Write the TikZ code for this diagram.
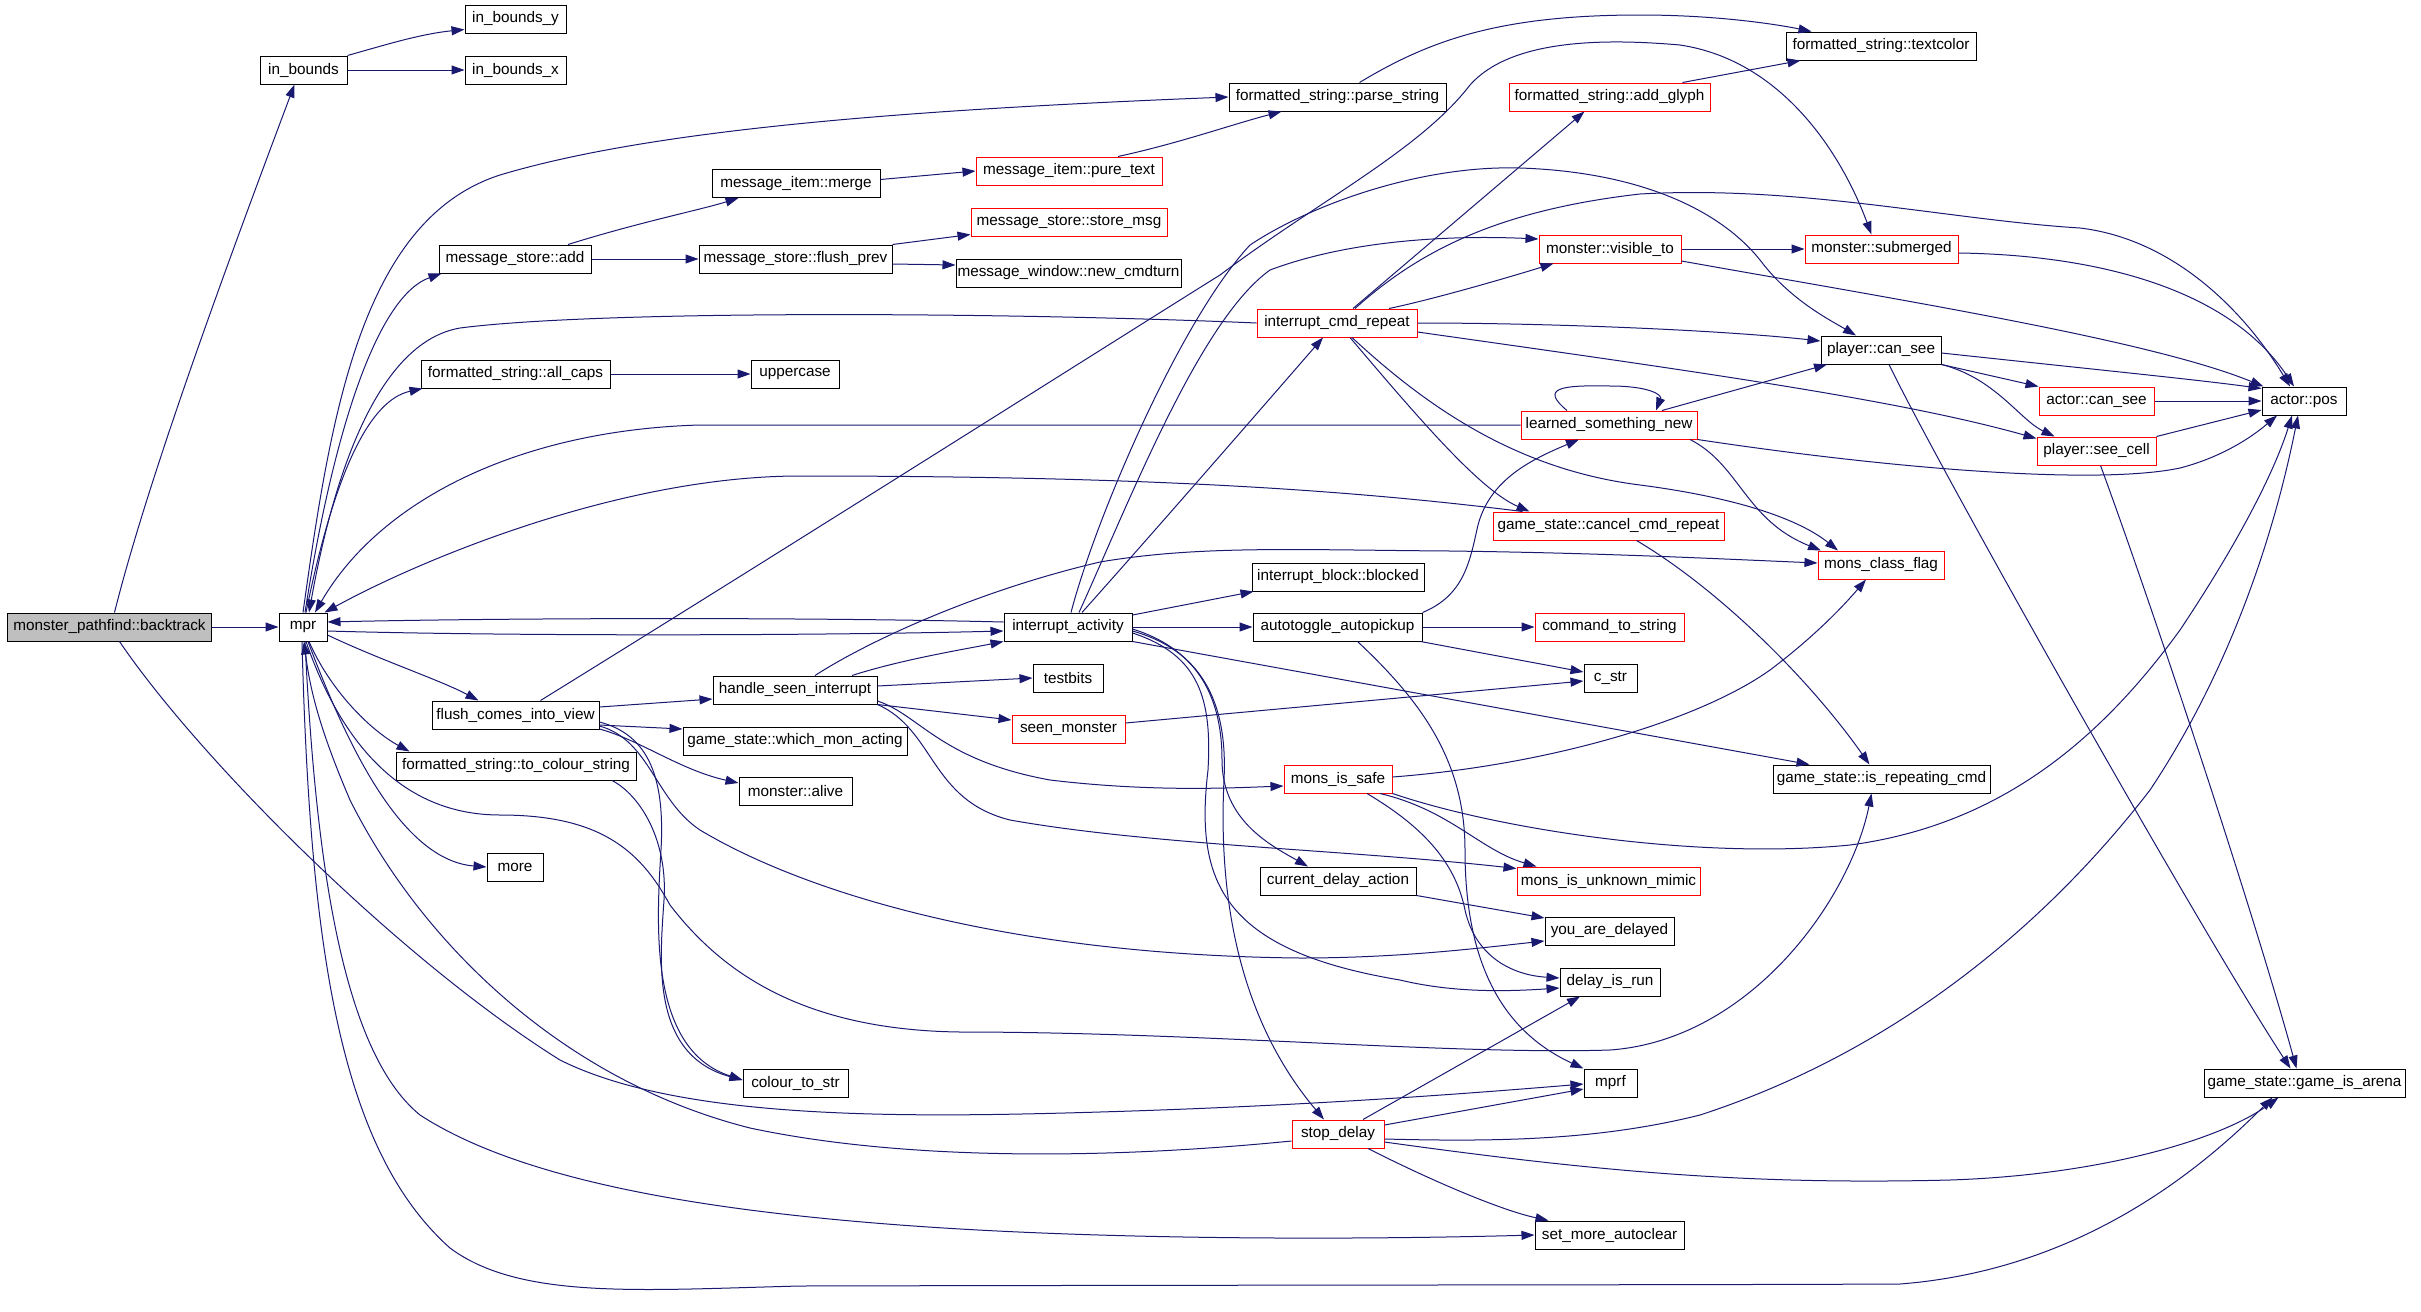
\documentclass[tikz,border=0pt]{standalone}
\usepackage{fontspec}
\setmainfont{Liberation Sans}
\usetikzlibrary{arrows.meta}
\definecolor{edgeblue}{RGB}{25,25,112}
\definecolor{rootgray}{RGB}{191,191,191}

\begin{document}
\begin{tikzpicture}[x=1pt,y=-1pt,
  fn/.style={draw=black,line width=1pt,fill=white,minimum height=28pt,inner sep=0pt,font=\fontsize{15.3}{18}\selectfont},
  fnred/.style={fn,draw=red},
  call/.style={draw=edgeblue,line width=1pt,-{Triangle[length=13pt,width=9pt]}}]

\useasboundingbox (0,0) rectangle (2421,1312);

%% functions
\node[fn,fill=rootgray,minimum width=204pt] (backtrack) at (109.5,627) {monster\_pathfind::backtrack};
\node[fn,minimum width=48pt] (mpr) at (303,627) {mpr};
\node[fn,minimum width=87pt] (inbounds) at (303.5,70) {in\_bounds};
\node[fn,minimum width=101pt] (inboundsy) at (515.5,19) {in\_bounds\_y};
\node[fn,minimum width=101pt] (inboundsx) at (515.5,70) {in\_bounds\_x};
\node[fn,minimum width=152pt] (msadd) at (515,259) {message\_store::add};
\node[fn,minimum width=189pt] (allcaps) at (515.5,374) {formatted\_string::all\_caps};
\node[fn,minimum width=167pt] (flushview) at (515.5,715) {flush\_comes\_into\_view};
\node[fn,minimum width=240pt] (tocolour) at (516,766) {formatted\_string::to\_colour\_string};
\node[fn,minimum width=56pt] (more) at (515,867) {more};
\node[fn,minimum width=168pt] (merge) at (796,183.5) {message\_item::merge};
\node[fn,minimum width=193pt] (flushprev) at (795.5,259) {message\_store::flush\_prev};
\node[fn,minimum width=88pt] (uppercase) at (795,374) {uppercase};
\node[fn,minimum width=164pt] (seenint) at (795,690) {handle\_seen\_interrupt};
\node[fn,minimum width=224pt] (whichmon) at (795,741) {game\_state::which\_mon\_acting};
\node[fn,minimum width=113pt] (alive) at (795.5,791) {monster::alive};
\node[fn,minimum width=105pt] (colourstr) at (795.5,1083) {colour\_to\_str};
\node[fn,minimum width=217pt] (parsestr) at (1337.5,97) {formatted\_string::parse\_string};
\node[fnred,minimum width=186pt] (puretext) at (1069,171) {message\_item::pure\_text};
\node[fnred,minimum width=196pt] (storemsg) at (1069,222) {message\_store::store\_msg};
\node[fn,minimum width=225pt] (newturn) at (1068.5,273) {message\_window::new\_cmdturn};
\node[fn,minimum width=128pt] (iact) at (1068,627) {interrupt\_activity};
\node[fn,minimum width=70pt] (testbits) at (1068,678) {testbits};
\node[fnred,minimum width=113pt] (seenmon) at (1068.5,729) {seen\_monster};
\node[fnred,minimum width=160pt] (cmdrepeat) at (1337,323) {interrupt\_cmd\_repeat};
\node[fn,minimum width=172pt] (blocked) at (1338,577) {interrupt\_block::blocked};
\node[fn,minimum width=169pt] (autopickup) at (1337.5,627) {autotoggle\_autopickup};
\node[fnred,minimum width=108pt] (monssafe) at (1338,779) {mons\_is\_safe};
\node[fn,minimum width=156pt] (curdelay) at (1338,881) {current\_delay\_action};
\node[fnred,minimum width=92pt] (stopdelay) at (1338,1134) {stop\_delay};
\node[fnred,minimum width=201pt] (addglyph) at (1609.5,97) {formatted\_string::add\_glyph};
\node[fnred,minimum width=142pt] (visibleto) at (1610,249) {monster::visible\_to};
\node[fnred,minimum width=176pt] (learned) at (1609,425) {learned\_something\_new};
\node[fnred,minimum width=231pt] (cancelrep) at (1608.5,526) {game\_state::cancel\_cmd\_repeat};
\node[fnred,minimum width=149pt] (cmdstr) at (1609.5,627) {command\_to\_string};
\node[fn,minimum width=53pt] (cstr) at (1610.5,678) {c\_str};
\node[fnred,minimum width=183pt] (mimic) at (1608.5,881) {mons\_is\_unknown\_mimic};
\node[fn,minimum width=129pt] (delayed) at (1609.5,931) {you\_are\_delayed};
\node[fn,minimum width=100pt] (delayrun) at (1610,982) {delay\_is\_run};
\node[fn,minimum width=53pt] (mprf) at (1610.5,1083) {mprf};
\node[fn,minimum width=149pt] (autoclear) at (1609.5,1235) {set\_more\_autoclear};
\node[fn,minimum width=190pt] (textcolor) at (1881,46) {formatted\_string::textcolor};
\node[fnred,minimum width=153pt] (submerged) at (1881.5,249) {monster::submerged};
\node[fn,minimum width=120pt] (pcansee) at (1881,350) {player::can\_see};
\node[fnred,minimum width=126pt] (classflag) at (1881,565) {mons\_class\_flag};
\node[fn,minimum width=217pt] (isrepeat) at (1881.5,779) {game\_state::is\_repeating\_cmd};
\node[fnred,minimum width=115pt] (acansee) at (2096.5,401) {actor::can\_see};
\node[fnred,minimum width=119pt] (seecell) at (2096.5,451) {player::see\_cell};
\node[fn,minimum width=84pt] (apos) at (2304,401) {actor::pos};
\node[fn,minimum width=201pt] (arena) at (2304.5,1083) {game\_state::game\_is\_arena};

%%% calls
\draw[call] ([xshift=5pt]backtrack.north) .. controls (150,470) and (240,230) .. ([xshift=-9pt]inbounds.south);
\draw[call] (inbounds.north east) .. controls (385,45) and (420,34) .. ([yshift=4pt]inboundsy.south west);
\draw[call] (inbounds.east) -- (inboundsx.west);
\draw[call] (backtrack.east) -- (mpr.west);
\draw[call] ([xshift=10pt]backtrack.south) .. controls (200,760) and (400,960) .. (560,1060) .. controls (680,1120) and (900,1118) .. (1100,1112) .. controls (1300,1106) and (1450,1095) .. ([yshift=-1pt]mprf.west);

%%% mpr
\draw[call] ([xshift=2pt]mpr.north) .. controls (335,420) and (380,295) .. ([xshift=3pt]msadd.south west);
\draw[call] ([xshift=3pt]mpr.north) .. controls (335,470) and (370,400) .. ([xshift=2pt]allcaps.south west);
\draw[call] (mpr.north) .. controls (330,420) and (360,220) .. (500,175) .. controls (650,130) and (900,110) .. (parsestr.west);
\draw[call] ([yshift=-4pt]mpr.east) .. controls (500,636) and (800,636) .. ([yshift=-4pt]iact.west);
\draw[call] ([yshift=-8pt]mpr.east) .. controls (380,660) and (440,680) .. ([xshift=-37pt]flushview.north);
\draw[call] ([xshift=6pt]mpr.south) .. controls (330,690) and (370,730) .. ([xshift=14pt]tocolour.north west);
\draw[call] ([xshift=5pt]mpr.south) .. controls (345,740) and (400,860) .. (more.west);
\draw[call] ([xshift=3pt]mpr.south) .. controls (340,740) and (400,815) .. (500,815) .. controls (600,815) and (640,850) .. (670,905) .. controls (720,970) and (800,1030) .. (960,1032) .. controls (1200,1032) and (1450,1055) .. (1610,1050) .. controls (1750,1040) and (1850,900) .. ([xshift=-10pt]isrepeat.south);
\draw[call] ([xshift=2pt]mpr.south) .. controls (315,850) and (340,1050) .. (420,1115) .. controls (520,1180) and (700,1210) .. (900,1225) .. controls (1100,1240) and (1350,1240) .. (autoclear.west);
\draw[call] ([xshift=-1pt]mpr.south) .. controls (310,950) and (340,1150) .. (450,1248) .. controls (520,1300) and (640,1290) .. (800,1286) .. controls (1200,1285) and (1700,1285) .. (1900,1284) .. controls (2080,1270) and (2200,1170) .. ([xshift=-32pt]arena.south);
\draw[call] (cmdrepeat.west) .. controls (1000,312) and (600,310) .. (460,328) .. controls (390,340) and (340,440) .. ([xshift=6pt]mpr.north);
\draw[call] (learned.west) -- (700,425) .. controls (520,430) and (380,500) .. ([xshift=12pt]mpr.north);
\draw[call] ([xshift=30pt]cancelrep.north west) .. controls (1350,490) and (1150,476) .. (800,476) .. controls (620,476) and (420,560) .. ([xshift=-3pt]mpr.north east);
\draw[call] ([yshift=5pt]iact.west) .. controls (800,617) and (500,618) .. ([yshift=5pt]mpr.east);
\draw[call] ([yshift=-7pt]stopdelay.west) .. controls (1100,1160) and (900,1160) .. (750,1128) .. controls (560,1080) and (420,940) .. (350,800) .. controls (320,730) and (310,690) .. ([xshift=1pt]mpr.south);

%%% messages
\draw[call] ([xshift=53pt]msadd.north) .. controls (640,222) and (700,210) .. ([xshift=27pt]merge.south west);
\draw[call] (msadd.east) -- (flushprev.west);
\draw[call] ([yshift=4pt]merge.east) -- (puretext.west);
\draw[call] ([xshift=49pt]puretext.north) .. controls (1180,143) and (1230,125) .. ([xshift=-56pt]parsestr.south);
\draw[call] (flushprev.north east) -- ([yshift=2pt]storemsg.south west);
\draw[call] ([yshift=-5pt]flushprev.east) -- ([yshift=8pt]newturn.west);
\draw[call] (allcaps.east) -- (uppercase.west);
\draw[call] ([xshift=22pt]parsestr.north) .. controls (1430,40) and (1500,15) .. (1640,15) .. controls (1720,15) and (1780,25) .. ([xshift=26pt]textcolor.north west);
\draw[call] ([xshift=73pt]addglyph.north) -- ([xshift=15pt]textcolor.south west);
\draw[call] (visibleto.east) -- (submerged.west);
\draw[call] ([xshift=25pt]flushview.north) .. controls (800,540) and (1100,350) .. (1220,275) .. controls (1320,200) and (1420,150) .. (1470,85) .. controls (1510,40) and (1600,38) .. (1680,45) .. controls (1780,60) and (1840,150) .. ([xshift=-10pt]submerged.north);

%%% interrupt_activity
\draw[call] ([xshift=3pt]iact.north) .. controls (1095,520) and (1180,320) .. (1250,245) .. controls (1310,205) and (1420,165) .. (1520,168) .. controls (1640,172) and (1720,210) .. (1760,260) .. controls (1790,300) and (1830,320) .. ([xshift=-25pt]pcansee.north);
\draw[call] ([xshift=11pt]iact.north) .. controls (1130,500) and (1200,320) .. (1270,270) .. controls (1350,240) and (1450,235) .. ([yshift=10pt]visibleto.west);
\draw[call] ([xshift=14pt]iact.north) .. controls (1160,525) and (1260,410) .. ([xshift=-14pt]cmdrepeat.south);
\draw[call] ([yshift=12pt]iact.east) -- ([xshift=2pt]blocked.south west);
\draw[call] (iact.east) -- (autopickup.west);
\draw[call] (iact.south east) -- ([xshift=-72pt]isrepeat.north);
\draw[call] ([yshift=-2pt]iact.east) .. controls (1200,650) and (1222,700) .. (1222,760) .. controls (1222,820) and (1270,845) .. ([xshift=-30pt]curdelay.north);
\draw[call] ([yshift=-4pt]iact.east) .. controls (1200,650) and (1228,700) .. (1224,780) .. controls (1218,900) and (1240,1020) .. ([xshift=-14pt]stopdelay.north);
\draw[call] ([yshift=-6pt]iact.east) .. controls (1200,655) and (1212,700) .. (1208,770) .. controls (1195,880) and (1220,950) .. (1400,980) .. controls (1450,992) and (1500,992) .. ([yshift=-6pt]delayrun.west);

%%% autotoggle_autopickup
\draw[call] (autopickup.north east) .. controls (1465,595) and (1470,560) .. (1478,525) .. controls (1490,480) and (1530,460) .. ([xshift=-30pt]learned.south);
\draw[call] (autopickup.east) -- (cmdstr.west);
\draw[call] ([xshift=-2pt]autopickup.south east) -- ([yshift=6pt]cstr.west);
\draw[call] ([xshift=20pt]autopickup.south) .. controls (1420,700) and (1465,760) .. (1465,850) .. controls (1465,960) and (1500,1030) .. (mprf.north west);

%%% handle_seen_interrupt
\draw[call] ([xshift=57pt]seenint.north) .. controls (900,660) and (960,650) .. (iact.south west);
\draw[call] ([xshift=20pt]seenint.north) .. controls (870,640) and (980,590) .. (1100,562) .. controls (1200,545) and (1300,550) .. (1450,551) .. controls (1600,553) and (1700,558) .. ([yshift=2pt]classflag.west);
\draw[call] ([yshift=4pt]seenint.east) -- (testbits.west);
\draw[call] (seenint.south east) -- ([yshift=9pt]seenmon.west);
\draw[call] ([yshift=-11pt]seenint.east) .. controls (920,715) and (940,760) .. (1050,780) .. controls (1150,792) and (1230,788) .. ([yshift=-7pt]monssafe.west);
\draw[call] (seenint.south east) .. controls (935,730) and (930,800) .. (1010,820) .. controls (1150,845) and (1350,850) .. ([yshift=-2pt]mimic.north west);

%%% flush_comes_into_view
\draw[call] ([yshift=8pt]flushview.east) -- ([yshift=-9pt]seenint.west);
\draw[call] ([yshift=-10pt]flushview.east) -- ([yshift=12pt]whichmon.west);
\draw[call] ([yshift=-14pt]flushview.east) .. controls (640,740) and (680,770) .. ([yshift=8pt]alive.west);
\draw[call] ([yshift=-7pt]flushview.east) .. controls (650,735) and (665,780) .. (661,850) .. controls (656,930) and (650,1050) .. ([yshift=3pt]colourstr.west);
\draw[call] ([xshift=96pt]tocolour.south) .. controls (640,795) and (668,840) .. (664,900) .. controls (660,960) and (650,1055) .. ([yshift=3pt]colourstr.west);
\draw[call] ([yshift=-11pt]flushview.east) .. controls (650,740) and (655,800) .. (700,830) .. controls (800,890) and (1000,955) .. (1300,958) .. controls (1400,958) and (1480,948) .. ([yshift=-10pt]delayed.west);
\draw[call] (curdelay.south east) -- ([yshift=13pt]delayed.west);
\draw[call] ([yshift=6pt]seenmon.east) -- ([yshift=-3pt]cstr.west);

%%% mons_is_safe
\draw[call] ([yshift=2pt]monssafe.east) .. controls (1550,765) and (1700,720) .. (1770,670) .. controls (1810,640) and (1840,610) .. ([xshift=-15pt]classflag.south);
\draw[call] (monssafe.south east) .. controls (1500,830) and (1700,860) .. (1850,845) .. controls (2000,825) and (2100,740) .. (2180,630) .. controls (2240,540) and (2275,470) .. ([xshift=-12pt]apos.south);
\draw[call] ([xshift=42pt]monssafe.south) .. controls (1450,810) and (1480,850) .. ([xshift=20pt]mimic.north west);
\draw[call] ([xshift=29pt]monssafe.south) .. controls (1420,825) and (1455,860) .. (1465,910) .. controls (1475,955) and (1510,975) .. ([yshift=4pt]delayrun.west);

%%% stop_delay
\draw[call] ([xshift=25pt]stopdelay.north) -- ([xshift=-30pt]delayrun.south);
\draw[call] ([yshift=9pt]stopdelay.east) -- ([yshift=-6pt]mprf.west);
\draw[call] ([xshift=30pt]stopdelay.south) .. controls (1430,1180) and (1500,1210) .. ([xshift=14pt]autoclear.north west);
\draw[call] ([yshift=-5pt]stopdelay.east) .. controls (1500,1142) and (1600,1140) .. (1700,1115) .. controls (1900,1050) and (2050,920) .. (2150,790) .. controls (2250,640) and (2285,480) .. ([xshift=-6pt]apos.south);
\draw[call] ([yshift=-8pt]stopdelay.east) .. controls (1600,1172) and (1750,1185) .. (1950,1180) .. controls (2100,1175) and (2220,1140) .. ([xshift=-26pt]arena.south);

%%% interrupt_cmd_repeat
\draw[call] ([xshift=18pt]cmdrepeat.north) .. controls (1420,250) and (1500,210) .. (1640,194) .. controls (1800,185) and (1950,220) .. (2080,228) .. controls (2180,240) and (2250,320) .. ([xshift=-14pt]apos.north);
\draw[call] ([xshift=16pt]cmdrepeat.north) -- ([xshift=-25pt]addglyph.south);
\draw[call] ([xshift=52pt]cmdrepeat.north) .. controls (1430,300) and (1500,280) .. ([xshift=15pt]visibleto.south west);
\draw[call] (cmdrepeat.east) .. controls (1550,323) and (1720,330) .. ([yshift=9pt]pcansee.west);
\draw[call] ([yshift=-9pt]cmdrepeat.east) .. controls (1700,372) and (1900,400) .. ([yshift=-2pt]seecell.north west);
\draw[call] ([xshift=13pt]cmdrepeat.south) .. controls (1420,420) and (1480,490) .. ([xshift=37pt]cancelrep.north west);
\draw[call] ([xshift=15pt]cmdrepeat.south) .. controls (1430,410) and (1520,470) .. (1640,485) .. controls (1740,498) and (1800,520) .. ([xshift=-43pt]classflag.north);

%%% learned_something_new
\draw[call] ([xshift=-42pt]learned.north) .. controls (1540,388) and (1560,385) .. (1610,386) .. controls (1650,386) and (1662,395) .. ([xshift=47pt]learned.north);
\draw[call] ([xshift=53pt]learned.north) -- ([xshift=-54pt]pcansee.south);
\draw[call] ([xshift=81pt]learned.south) .. controls (1740,465) and (1745,520) .. ([xshift=-60pt]classflag.north);
\draw[call] (learned.south east) .. controls (1900,470) and (2100,485) .. (2180,468) .. controls (2230,455) and (2260,430) .. ([xshift=-27pt]apos.south);
\draw[call] ([xshift=28pt]cancelrep.south) .. controls (1720,590) and (1810,680) .. ([xshift=-12pt]isrepeat.north);

%%% player and actor
\draw[call] ([yshift=-3pt]pcansee.east) .. controls (2100,370) and (2200,380) .. ([yshift=-2pt]apos.north west);
\draw[call] (pcansee.south east) -- (acansee.north west);
\draw[call] (pcansee.south east) .. controls (1995,378) and (2020,420) .. ([xshift=-42pt]seecell.north);
\draw[call] ([xshift=8pt]pcansee.south) .. controls (1940,470) and (2200,930) .. ([xshift=-14pt]arena.north);
\draw[call] (acansee.east) -- (apos.west);
\draw[call] (seecell.north east) -- ([yshift=-9pt]apos.west);
\draw[call] ([xshift=4pt]seecell.south) .. controls (2150,600) and (2250,900) .. ([xshift=-8pt]arena.north);
\draw[call] ([yshift=-4pt]submerged.east) .. controls (2100,255) and (2230,290) .. ([xshift=-10pt]apos.north);
\draw[call] ([yshift=-12pt]visibleto.east) .. controls (1900,300) and (2150,340) .. ([xshift=2pt]apos.north west);

\end{tikzpicture}
\end{document}
